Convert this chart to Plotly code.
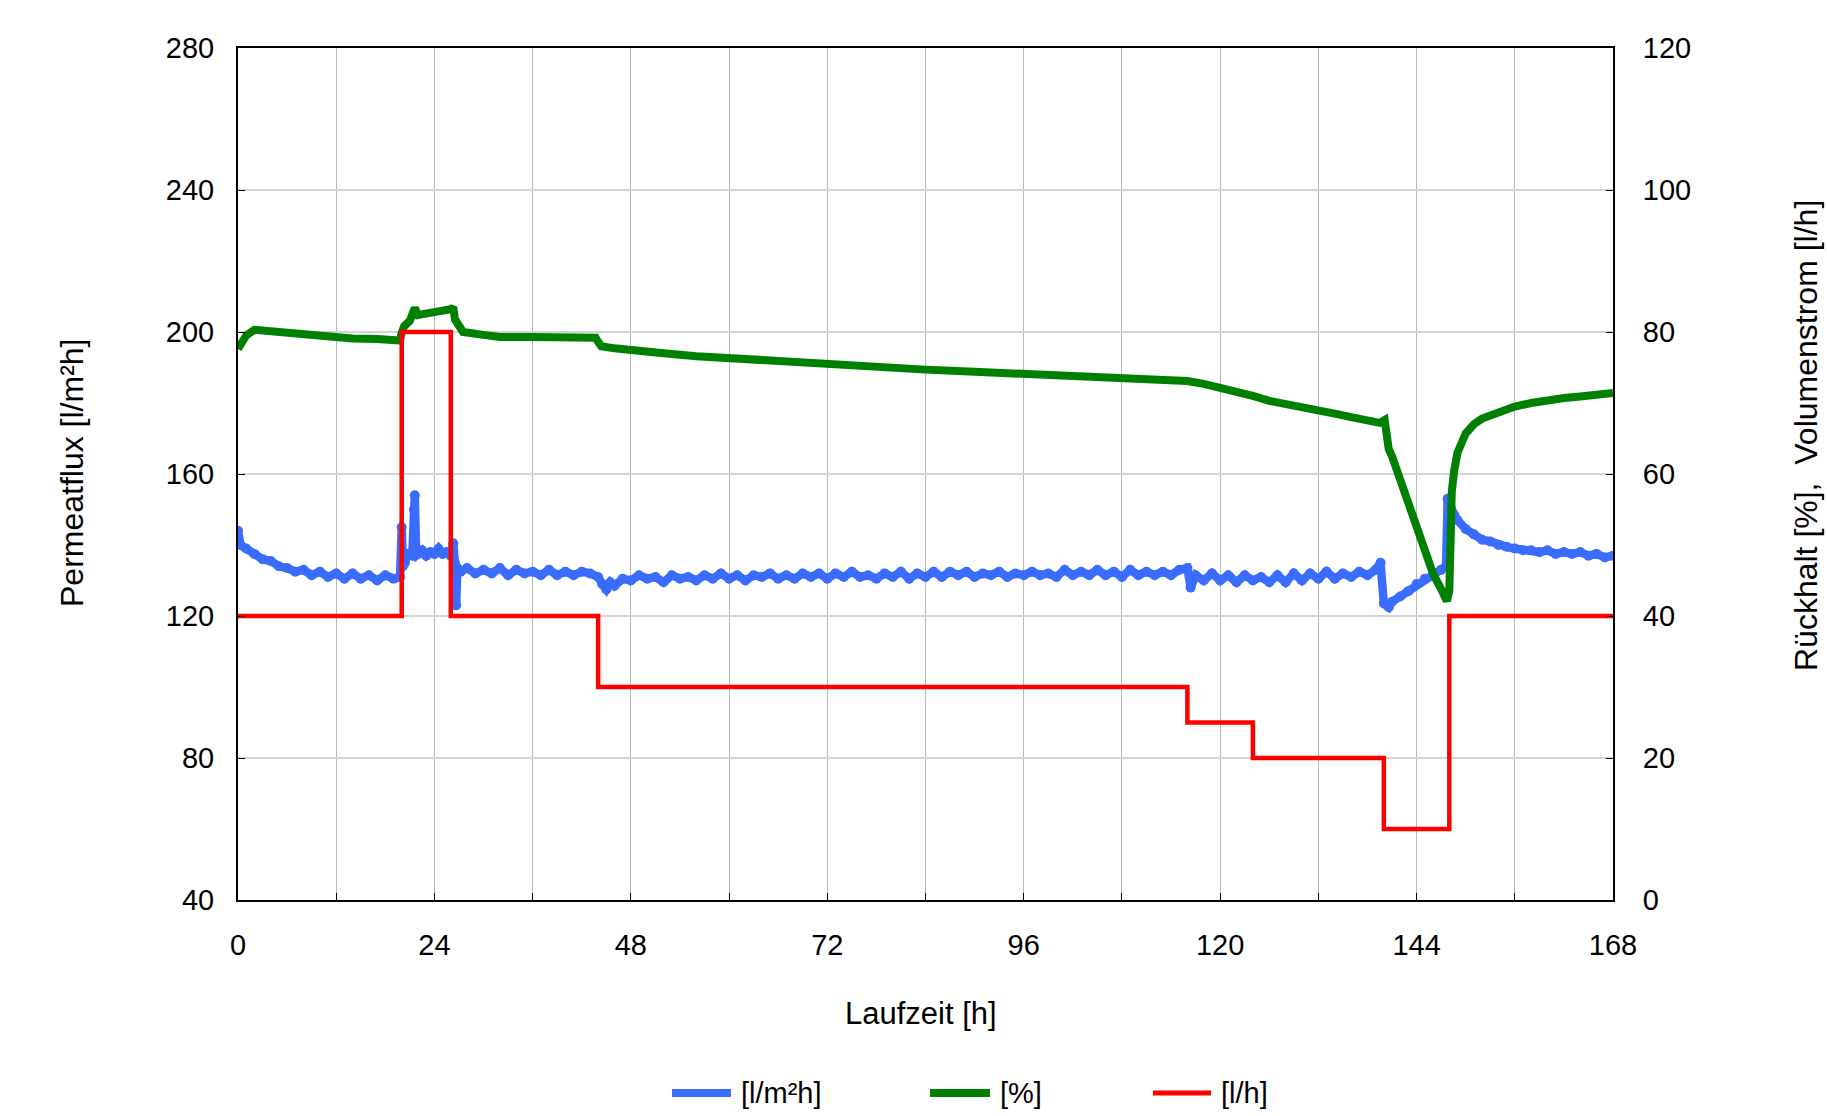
import plotly.graph_objects as go

# ---------------- data ----------------
# Permeatflux [l/m²h] (left axis)
flux_t = (
    [0, 0.3, 1, 2, 3, 4, 5, 6, 7, 8, 9, 10, 11, 12, 13, 14, 15, 16, 17, 18, 19, 19.8]
    + [20.0, 20.15, 20.4, 20.8, 21.3, 21.5, 21.6, 21.75, 22.0, 22.5, 23, 23.5, 24, 24.5, 25,
       25.5, 26, 26.3, 26.5, 26.65, 26.8, 27.2]
    + list(range(28, 44))
    + [44, 44.5, 45, 45.5, 46, 47]
    + list(range(48, 116))
    + [116, 116.4, 117, 118, 119, 120, 121, 122, 123, 124, 125, 126, 127, 128, 129, 130, 131,
       132, 133, 134, 135, 136, 137, 138, 139, 139.6]
    + [140, 140.6, 141, 142, 143, 144, 145, 146, 147, 147.6, 147.8, 148.2, 148.6, 149, 150, 151,
       152, 153, 154, 155, 156, 157, 158, 159, 160, 161, 162, 163, 164, 165, 166, 167, 168]
)
flux_v = (
    [144, 140, 139, 137.5, 136, 135.5, 134, 133.5, 132.5, 133, 131.5, 132.5, 131, 132, 130.5,
     132, 130.5, 131.5, 130, 131.5, 130.5, 131]
    + [145, 134, 135, 137.5, 137, 150, 154, 139, 137.5, 138.5, 137, 138, 137.5, 139, 137.5,
       138, 137, 140.5, 135, 123, 133.5, 132.5]
    + [133.5, 132, 133, 132, 133.5, 131.5, 133, 132, 132.5, 131.5, 133, 131.5, 132.5, 131.5,
       132.5, 132]
    + [131, 129, 127.5, 129.5, 128.5, 130.5]
    + [130, 131.5, 130.5, 131, 129.5, 131.5, 130.5, 131, 130, 131.5, 130.5, 132, 130.5, 131.5,
       130, 131.5, 131, 132, 130.5, 131.5, 130.5, 132, 131, 132, 130.5, 132, 131, 132.5, 131,
       131.5, 130.5, 132, 131, 132.5, 130.5, 132, 131, 132.5, 131, 132.5, 131.5, 132.5, 131,
       132, 131.5, 132.5, 131, 132, 131.5, 132.5, 131.5, 132, 131, 133, 131.5, 132.5, 131.5,
       133, 131.5, 132.5, 131, 133, 131.5, 132.5, 131.5, 132.5, 131.5, 133]
    + [133.5, 128, 131.5, 130, 132, 130, 131.5, 129.5, 131.5, 130, 131, 129.5, 131.5, 129.5,
       132, 130, 132, 130.5, 132.5, 130.5, 132, 131, 132.5, 131.5, 133, 135]
    + [123.5, 122.5, 124, 125.5, 127, 129, 130.5, 131.5, 133, 134, 153, 150, 148.5, 147, 144.5,
       143, 141.5, 141, 140, 139.5, 139, 138.5, 138.5, 138, 138.5, 137.5, 138, 137.5, 138, 137,
       137.5, 136.5, 137]
)

# Rückhalt [%] (right axis)
ret_t = [0, 0.4, 1, 2, 3, 5, 8, 11, 14, 17, 19.8, 20.0, 20.3, 21, 21.6, 22.0, 23, 24.5, 26.0,
         26.3, 26.5, 27, 27.5, 30, 32, 36, 40, 43.7, 44.0, 44.4, 46, 48, 52, 56, 60, 66, 72, 78,
         84, 90, 96, 102, 108, 112, 116, 118, 120, 122, 124, 126, 128, 130, 132, 134, 136, 138,
         139.5, 140.1, 140.4, 140.6, 141, 142, 143, 144, 145, 146, 147, 147.7, 148.0, 148.1,
         148.3, 148.6, 149, 150, 151, 152, 154, 156, 158, 160, 162, 164, 166, 168]
ret_v = [77.6, 78.6, 79.5, 80.3, 80.2, 79.9, 79.5, 79.2, 79.1, 79.0, 78.8, 79.9, 80.8, 81.6,
         83.4, 82.4, 82.7, 82.9, 83.2, 83.5, 81.8, 80.9, 80.0, 79.6, 79.3, 79.3, 79.2, 79.2, 78.6,
         78.0, 77.7, 77.4, 77.0, 76.6, 76.3, 75.9, 75.5, 75.1, 74.7, 74.4, 74.1, 73.8, 73.6, 73.4,
         73.1, 72.7, 72.2, 71.7, 71.0, 70.3, 69.9, 69.5, 69.0, 68.5, 68.0, 67.4, 67.2, 67.6, 65.0,
         63.5, 62.5, 59.2, 55.8, 51.8, 48.8, 46.0, 43.8, 42.1, 43.5, 53.0, 57.5, 60.5, 63.0, 65.7,
         67.0, 67.8, 68.8, 69.5, 70.0, 70.4, 70.7, 70.9, 71.1, 71.4]

# Volumenstrom [l/h] (right axis), step function
flow_t = [0, 20, 26, 44, 116, 124, 140, 148, 168]
flow_v = [40, 80, 40, 30, 25, 20, 10, 40, 40]

x_ticks = list(range(0, 169, 12))
x_labels = [str(v) if v % 24 == 0 else "" for v in x_ticks]
y_left_ticks = [40, 80, 120, 160, 200, 240, 280]
y_right_ticks = [0, 20, 40, 60, 80, 100, 120]

series_names = ["[l/m²h]", "[%]", "[l/h]"]
series_colors = ["#3a6cff", "#008000", "#ff0000"]

# ---------------- layout geometry (pixels) ----------------
W, H = 1827, 1116
L, R, T, B = 238, 1613, 48, 900


def px(x):
    return (x - L) / (R - L)


def py(y):
    return (B - y) / (B - T)


FONT = "Liberation Sans, Arial, Helvetica, sans-serif"

fig = go.Figure()
fig.add_trace(go.Scatter(x=flux_t, y=flux_v, mode="lines+markers", name=series_names[0],
                         line=dict(color=series_colors[0], width=8.5),
                         marker=dict(color=series_colors[0], size=10), yaxis="y",
                         showlegend=False))
fig.add_trace(go.Scatter(x=ret_t, y=ret_v, mode="lines", name=series_names[1],
                         line=dict(color=series_colors[1], width=8), yaxis="y2",
                         showlegend=False))
fig.add_trace(go.Scatter(x=flow_t, y=flow_v, mode="lines", name=series_names[2],
                         line=dict(color=series_colors[2], width=4.5, shape="hv"), yaxis="y2",
                         showlegend=False))

fig.update_layout(
    width=W, height=H,
    margin=dict(l=L, r=W - R, t=T, b=H - B),
    plot_bgcolor="white", paper_bgcolor="white",
    font=dict(family=FONT, color="black", size=30),
    xaxis=dict(range=[0, 168], tickvals=x_ticks, ticktext=x_labels,
               showgrid=True, gridcolor="#b8b8b8", gridwidth=1,
               showline=True, linecolor="black", linewidth=2, mirror=True,
               ticks="inside", ticklen=7, tickcolor="black", tickwidth=1,
               tickfont=dict(size=29), ticklabelstandoff=18, zeroline=False),
    yaxis=dict(range=[40, 280], tickvals=y_left_ticks,
               showgrid=True, gridcolor="#d4d4d4", gridwidth=1.5,
               showline=True, linecolor="black", linewidth=2,
               ticks="inside", ticklen=7, tickcolor="black", tickwidth=1,
               tickfont=dict(size=29), ticklabelstandoff=16, zeroline=False),
    yaxis2=dict(range=[0, 120], tickvals=y_right_ticks, overlaying="y", side="right",
                showgrid=False, showline=True, linecolor="black", linewidth=2,
                ticks="inside", ticklen=7, tickcolor="black", tickwidth=1,
                tickfont=dict(size=29), ticklabelstandoff=22, zeroline=False),
    showlegend=False,
)

annotations = [
    dict(text="Laufzeit [h]", x=px(921), y=py(1013), xref="paper", yref="paper",
         showarrow=False, font=dict(size=31), xanchor="center", yanchor="middle"),
    dict(text="Permeatflux [l/m²h]", x=px(72), y=py(473), xref="paper", yref="paper",
         showarrow=False, font=dict(size=32), textangle=-90, xanchor="center", yanchor="middle"),
    dict(text="Rückhalt [%],\u00a0\u00a0Volumenstrom [l/h]", x=px(1806), y=py(436),
         xref="paper", yref="paper", showarrow=False, font=dict(size=32), textangle=-90,
         xanchor="center", yanchor="middle"),
]

# manual legend
legend_items = [(672, 731, 739, 8), (930, 990, 998, 8), (1153, 1211, 1219, 5)]
shapes = []
LEG_Y = 1093
for (x0, x1, xt, lw), name, col in zip(legend_items, series_names, series_colors):
    shapes.append(dict(type="line", xref="paper", yref="paper", x0=px(x0), x1=px(x1),
                       y0=py(LEG_Y), y1=py(LEG_Y), line=dict(color=col, width=lw)))
    annotations.append(dict(text=name, x=px(xt), y=py(LEG_Y), xref="paper", yref="paper",
                            showarrow=False, font=dict(size=29), xanchor="left",
                            yanchor="middle"))

fig.update_layout(annotations=annotations, shapes=shapes)

fig.write_html("out.html", include_plotlyjs=True, config={"displayModeBar": False},
               post_script="document.body.style.margin='0';document.body.style.overflow='hidden';")
